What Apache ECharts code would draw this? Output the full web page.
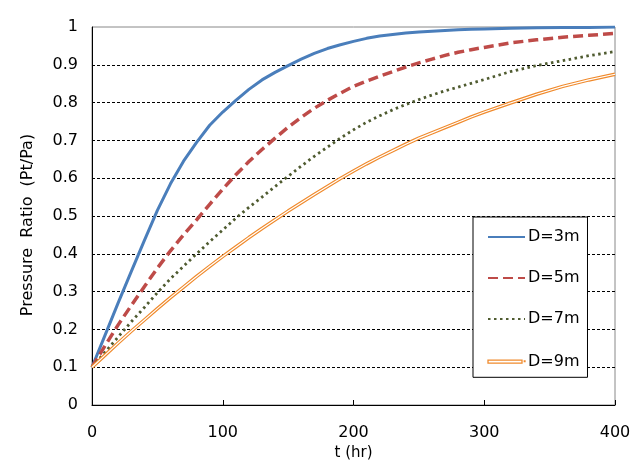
<!DOCTYPE html>
<html>
<head>
<meta charset="utf-8">
<script src="https://cdn.jsdelivr.net/npm/echarts@6/dist/echarts.min.js"></script>
<style>html,body{margin:0;padding:0;background:#fff;}#c{width:642px;height:472px;}</style>
</head>
<body>
<div id="c"></div>
<script>
var times = [0,10,20,30,40,50,60,70,80,90,100,110,120,130,140,150,160,170,180,190,200,210,220,230,240,250,260,270,280,290,300,320,340,360,380,400];
var d3 = [0.10,0.185,0.27,0.353,0.435,0.515,0.585,0.645,0.695,0.74,0.775,0.806,0.835,0.86,0.88,0.898,0.915,0.93,0.943,0.953,0.962,0.970,0.976,0.980,0.984,0.987,0.989,0.991,0.993,0.994,0.995,0.997,0.998,0.999,0.999,1.0];
var d5 = [0.10,0.157,0.212,0.263,0.313,0.362,0.408,0.45,0.49,0.531,0.571,0.609,0.644,0.676,0.706,0.735,0.761,0.785,0.806,0.825,0.843,0.857,0.870,0.882,0.894,0.905,0.915,0.925,0.933,0.940,0.946,0.958,0.966,0.973,0.978,0.983];
var d7 = [0.10,0.14,0.18,0.22,0.258,0.297,0.334,0.367,0.40,0.432,0.463,0.494,0.523,0.55,0.578,0.605,0.632,0.658,0.682,0.706,0.728,0.748,0.765,0.781,0.795,0.808,0.820,0.831,0.841,0.851,0.861,0.882,0.898,0.911,0.924,0.935];
var d9 = [0.10,0.132,0.164,0.195,0.225,0.255,0.284,0.312,0.34,0.367,0.393,0.418,0.443,0.467,0.49,0.513,0.535,0.557,0.578,0.599,0.619,0.638,0.656,0.673,0.69,0.706,0.72,0.734,0.748,0.762,0.775,0.799,0.822,0.843,0.86,0.875];
var seriesNames = ['D=3m','D=5m','D=7m','D=9m'];
var xTicks = [0,100,200,300,400];

function pairs(v){ return times.map(function(t,i){ return [t, v[i]]; }); }

var chart = echarts.init(document.getElementById('c'), null, {renderer:'canvas'});
var font = '"DejaVu Sans", sans-serif';
var legendData = seriesNames.map(function(n, i){
  if (i === 3) {
    return {name: n, icon: 'path://M0,0M37,18M0,7.5H34V10.5H0Z M36.3,8.3L37,8.3L37,9L36.3,9Z',
            itemStyle: {opacity: 1, color: '#fff', borderColor: '#f08a2c', borderWidth: 1.3}};
  }
  return {name: n};
});
chart.setOption({
  animation: false,
  backgroundColor: '#fff',
  grid: {left: 92, right: 27, top: 27, bottom: 67, outerBoundsMode: 'none', containLabel: false, show: true, borderColor: '#888', borderWidth: 1, backgroundColor: 'transparent'},
  legend: {
    data: legendData,
    orient: 'vertical',
    left: 473, top: 217,
    width: 110, height: 160,
    padding: [12, 8, 6, 14],
    itemGap: 25,
    itemWidth: 37, itemHeight: 18,
    backgroundColor: '#fff',
    borderColor: '#000', borderWidth: 1,
    itemStyle: {opacity: 0},
    textStyle: {fontFamily: font, fontSize: 16, color: '#000', padding: [0,0,0,-2]}
  },
  xAxis: {
    type: 'value', min: 0, max: 400, interval: 100,
    name: 't (hr)', nameLocation: 'middle', nameGap: 41,
    nameTextStyle: {fontFamily: font, fontSize: 15, color: '#000'},
    axisLine: {show: true, lineStyle: {color: '#000', width: 1}},
    axisTick: {show: true, inside: true, length: 5, lineStyle: {color: '#000'}},
    axisLabel: {fontFamily: font, fontSize: 16, color: '#000', margin: 20, formatter: function(v){ return xTicks.indexOf(v) >= 0 ? String(v) : ''; }},
    splitLine: {show: false}
  },
  yAxis: {
    type: 'value', min: 0, max: 1, interval: 0.1,
    name: 'Pressure  Ratio  (Pt/Pa)', nameLocation: 'middle', nameGap: 56, nameRotate: 90,
    nameTextStyle: {fontFamily: font, fontSize: 16, color: '#000', padding: [0,18,0,0]},
    axisLine: {show: true, lineStyle: {color: '#000', width: 1}},
    axisTick: {show: false},
    axisLabel: {fontFamily: font, fontSize: 16, color: '#000', margin: 14, formatter: function(v){ return String(Math.round(v*10)/10); }},
    splitLine: {show: true, showMinLine: false, showMaxLine: false, lineStyle: {color: '#000', type: [3,2], width: 1}}
  },
  series: [
    {name: 'D=3m', type: 'line', data: pairs(d3), symbol: 'none', smooth: false, itemStyle:{color:'#4a7ebb'}, lineStyle: {color: '#4a7ebb', width: 3}},
    {name: 'D=5m', type: 'line', data: pairs(d5), symbol: 'none', itemStyle:{color:'#be4b48'}, lineStyle: {color: '#be4b48', width: 3.5, type: [10,5]}},
    {name: 'D=7m', type: 'line', data: pairs(d7), symbol: 'none', itemStyle:{color:'#4f5b30'}, lineStyle: {color: '#4f5b30', width: 2.8, type: [2.5,3.5]}},
    {name: 'D=9m', type: 'line', data: pairs(d9), symbol: 'none', itemStyle:{color:'#f79646'}, lineStyle: {color: '#f08a2c', width: 3.5}},
    {name: 'D=9m inner', type: 'line', data: pairs(d9), symbol: 'none', silent: true, itemStyle:{color:'#fff'}, lineStyle: {color: '#fff', width: 1.2}}
  ]
});
</script>
</body>
</html>
